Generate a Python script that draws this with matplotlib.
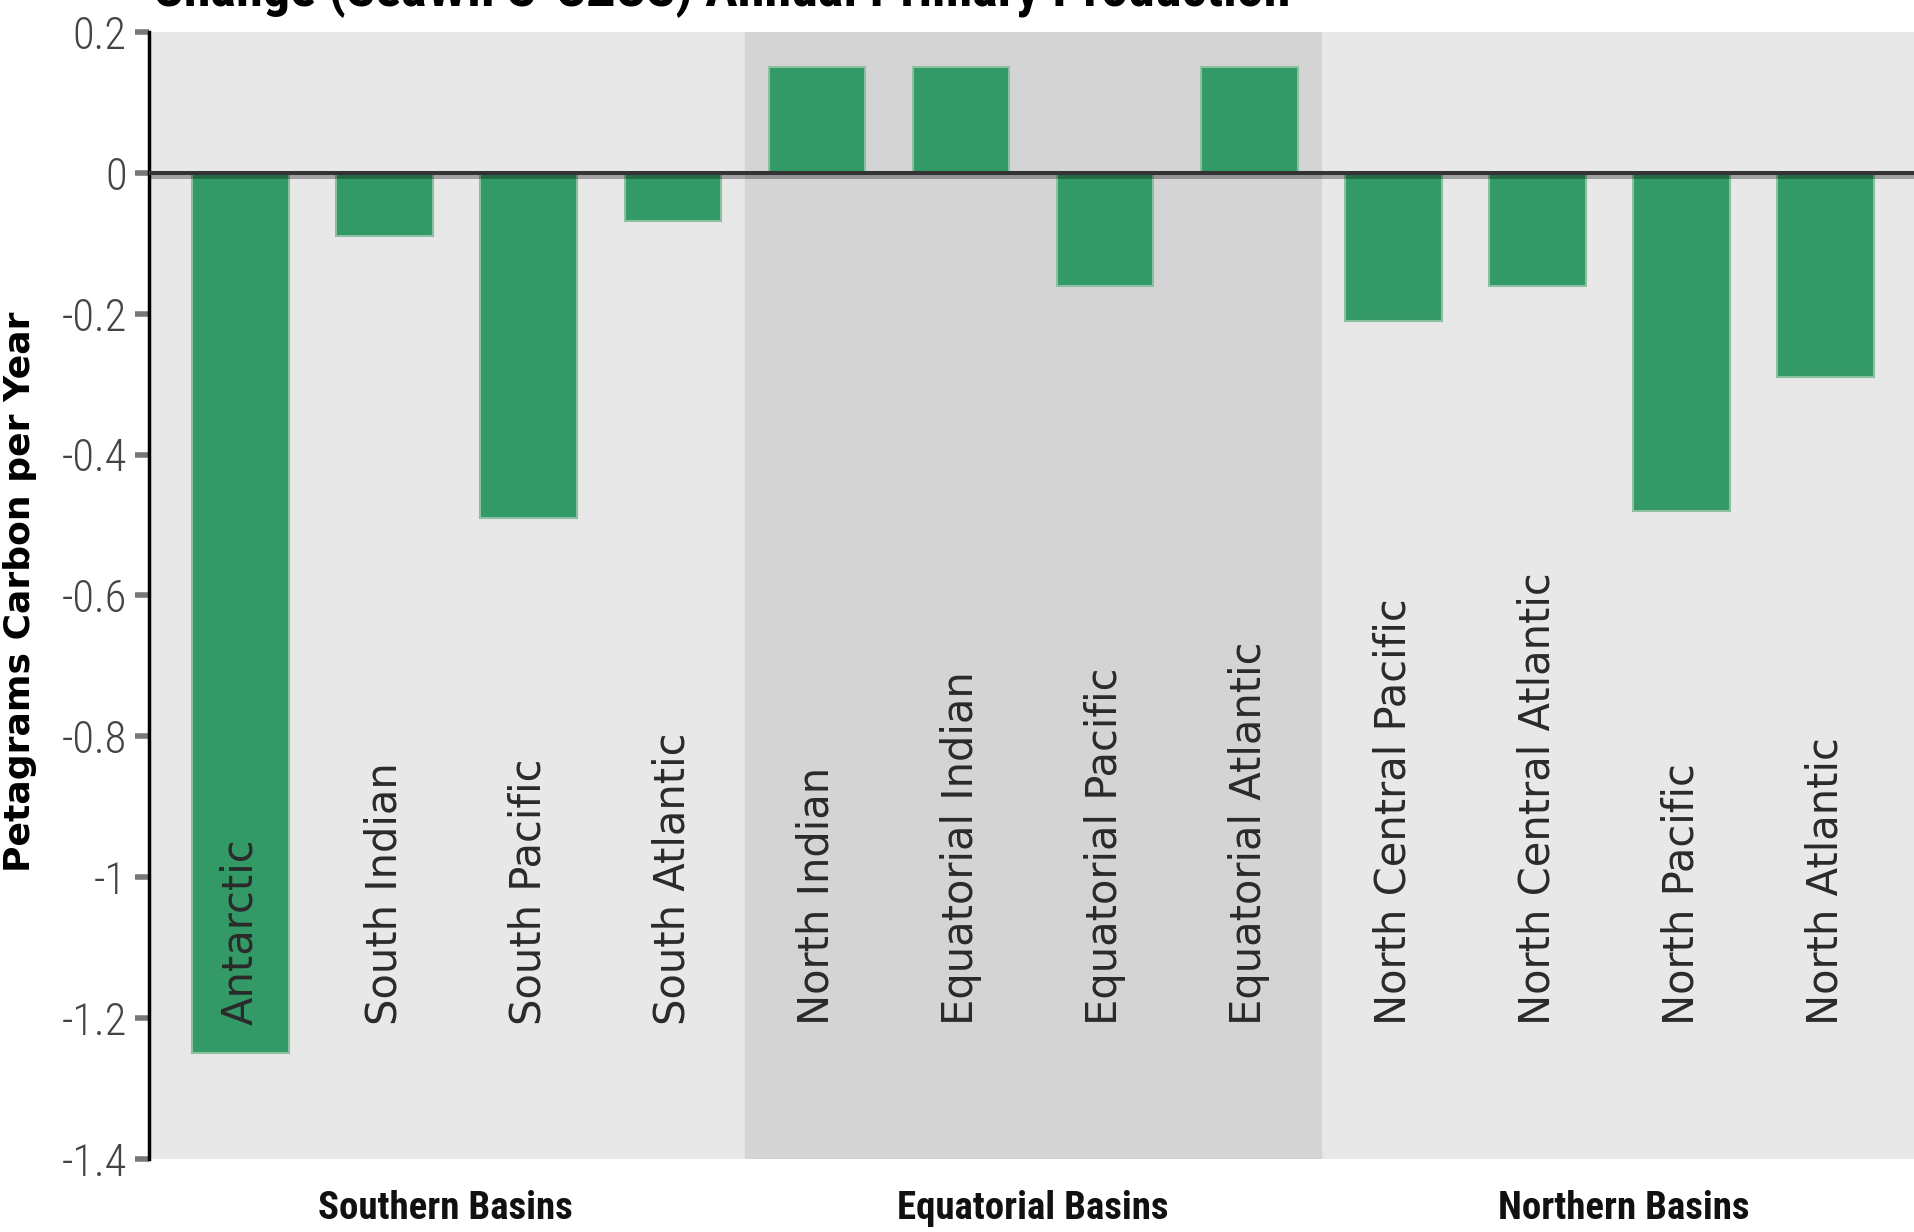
import matplotlib
matplotlib.use("Agg")
import matplotlib.pyplot as plt
from matplotlib import font_manager

# ocean basins, left to right
basins = ["Antarctic", "South Indian", "South Pacific", "South Atlantic",
          "North Indian", "Equatorial Indian", "Equatorial Pacific", "Equatorial Atlantic",
          "North Central Pacific", "North Central Atlantic", "North Pacific", "North Atlantic"]
# change in annual primary production (Pg C / yr)
change = [-1.25, -0.09, -0.49, -0.068, 0.15, 0.15, -0.16, 0.15, -0.21, -0.16, -0.48, -0.29]

groups = ["Southern Basins", "Equatorial Basins", "Northern Basins"]
group_pos = [1.42, 5.5, 9.6]
yticks = [0.2, 0, -0.2, -0.4, -0.6, -0.8, -1, -1.2, -1.4]
ytick_labels = ["0.2", "0", "-0.2", "-0.4", "-0.6", "-0.8", "-1", "-1.2", "-1.4"]

# look for a narrow face for the ticks / group names
names = set(f.name for f in font_manager.fontManager.ttflist)
narrow = None
for cand in ["Roboto Condensed", "Liberation Sans Narrow", "DejaVu Sans Condensed",
             "Open Sans Condensed", "Noto Sans Condensed"]:
    if cand in names:
        narrow = cand
        break
if narrow is None:
    narrow = "DejaVu Sans"
    nstretch = "condensed"
    tick_fs, grp_fs, title_fs = 25, 24, 27
else:
    nstretch = "normal"
    tick_fs, grp_fs, title_fs = 32, 28, 39

fig = plt.figure(figsize=(19.15, 12.32), dpi=100)
ax = fig.add_axes([0.0778, 0.0593, 0.9222, 0.9147])

ax.set_facecolor("#e8e8e8")
ax.axvspan(3.5, 7.5, color="#d4d4d4", zorder=0)

x = list(range(len(basins)))
ax.bar(x, change, width=0.67, color="#339966", edgecolor="#8cc0a0", linewidth=1.5, zorder=2)
# zero line with its soft shadow just under it
ax.axhline(-0.0057, color="black", alpha=0.3, lw=2.9, zorder=3)
ax.axhline(0, color="#333333", lw=2.9, zorder=3)

for i, name in enumerate(basins):
    ax.text(i, -1.21, name, rotation=90, ha="center", va="bottom",
            fontsize=30, color="#2a2a2a", family="DejaVu Sans", zorder=4)

ax.set_xlim(-0.635, 11.62)
ax.set_ylim(-1.4, 0.2)
ax.set_xticks([])
ax.set_yticks(yticks)
ax.set_yticklabels(ytick_labels, family=narrow, stretch=nstretch, fontsize=tick_fs,
                   color="#444444", fontweight="light")
ax.tick_params(axis="y", length=10, width=4, color="#777777", pad=6)

for s in ["top", "right", "bottom"]:
    ax.spines[s].set_visible(False)
ax.spines["left"].set_linewidth(2.5)
ax.spines["left"].set_color("black")

ax.set_ylabel("Petagrams Carbon per Year", fontsize=26, fontweight="bold")
ax.yaxis.set_label_coords(-0.0634, 0.503)

for g, p in zip(groups, group_pos):
    ax.text(p, -1.47, g, ha="center", va="center", fontsize=grp_fs, fontweight="bold",
            family=narrow, stretch=nstretch, color="#111111")

fig.text(0.08, 0.9955, "Change (SeaWiFS-CZCS) Annual Primary Production", ha="left", va="baseline",
         fontsize=title_fs, fontweight="bold", family=narrow, stretch=nstretch)

fig.savefig("out.png", dpi=100)
